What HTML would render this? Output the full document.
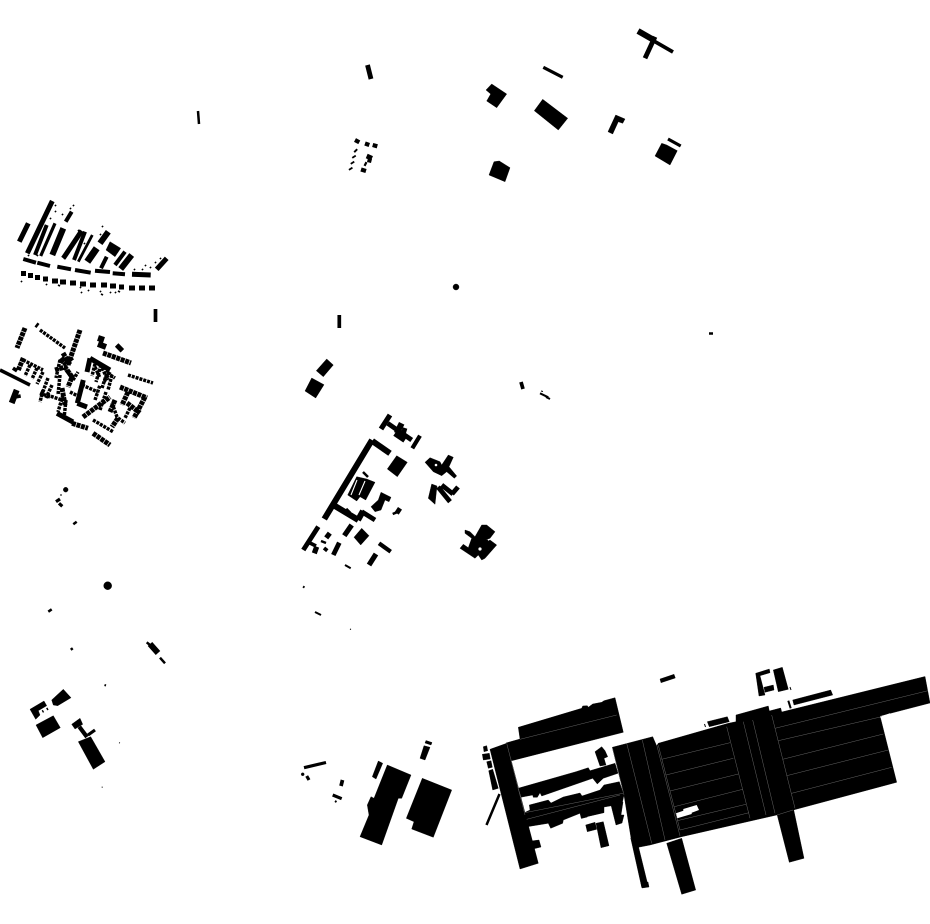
<!DOCTYPE html>
<html><head><meta charset="utf-8"><style>html,body{margin:0;padding:0;background:#fff}svg{display:block}</style></head><body>
<svg width="930" height="924" viewBox="0 0 930 924" xmlns="http://www.w3.org/2000/svg">
<rect width="930" height="924" fill="#fff"/>
<g fill="#000" stroke="#000" stroke-width="0.4">
<!-- SE complex -->
<polygon points="518.3,727.3 581.7,708.3 582.7,706 587.3,705.7 588.3,707.3 592.7,704 601.7,702.3 604,700.7 615,697.7 623.3,732.3 511.7,760.7 506,743 520,739"/>
<polygon points="490,749.3 506.7,743.3 538.3,863.3 520,869"/>
<polygon points="531,841 539,840 541,847 533,849"/>
<polygon points="518,788.3 576,771.7 588.3,767.7 590,770.7 615,763.3 618,773.3 603.3,778.3 597.3,784 592.7,778.3 541.7,796 540,792.7 537.3,797.3 533.3,797.3 532.7,795 520.7,797.3"/>
<polygon points="529.3,805 548.3,800 551,803 563.3,797 580,793 582,796 600,790 604,785 619.3,781.7 624,795 622,804 604,807 604,812.7 586.7,816.7 586,813.3 580,813.3 563.3,820 562.7,823.3 550.7,828.3 548.3,823.3 527.3,826.7 524.3,812.7 530,810"/>
<polygon points="611,805 623,802 621,815 624,815 622,823 616,825"/>
<polygon points="580,813.3 586,811.7 587.3,817 581.3,818.5"/>
<polygon points="585.7,825 595,822.3 596.7,829.3 587.3,831.7"/>
<polygon points="596,823.3 603.3,821.7 609,845.7 601,847.7"/>
<polygon points="595,751.7 601.7,746.7 605,750.7 607.7,756.7 604,758.3 606,765 600,766"/>
<polygon points="483.3,746.7 486.7,745.7 487.7,750.7 484,751.7"/>
<polygon points="482.3,754.3 489.3,753.3 490.3,759 483.3,760"/>
<polygon points="486.7,761.7 491,760.7 492.3,767.3 488.3,768.3"/>
<polygon points="488.7,770.7 492.7,769.3 498.3,788.3 492.7,790"/>
<polygon points="612.3,747.3 652.7,736.7 656.7,746 658.3,743.3 728.3,723.3 736,721.7 736,715 768.3,706 769.3,711 780.7,708 781.7,712 925,676.5 930,703 880,716 896.7,782.3 793.3,810 776.7,815 681.7,836.7 650,845 638.3,847.3 631,838 624,795"/>
<polygon points="630.7,838 638.3,846 648.3,886.7 641.7,887.3"/>
<polygon points="641,883 648,882 649,887 642,888"/>
<polygon points="666.7,843.3 681.7,838.3 695.7,890 681.7,894.3"/>
<polygon points="776.7,813 793.3,808 804,858.3 789.3,862.3"/>
<polygon points="880,716.7 890,713.3 890.7,715.3 880.7,718.3" fill="#fff" stroke="none"/>
<polygon points="707.3,721.7 727.3,716.7 729.3,721.7 709.3,726.7"/>
<polygon points="792.7,700 830.7,690 832.7,695 794,705"/>
<polygon points="660,679 674,674.3 675.3,678 661,682.7"/>
<polygon points="755.7,673.3 769.3,669 770,672.7 760,675.7 765,695 759,696"/>
<polygon points="764,687.3 773.3,685 774,690 765,692.3"/>
<polygon points="773.3,670 782.3,667.3 788.3,689.3 778.3,691.7"/>
<!-- S buildings -->
<polygon points="387.3,765 411,775 401.7,798.3 398.3,798.3 381.7,845 360,836.7 369,815 367.3,805 371,796.7 374,798.3"/>
<polygon points="422.3,778.3 451.7,790 433.3,837.3 411.7,829 414,821.7 406.3,818.3"/>
<polygon points="378.3,761 382.7,763.3 376,779 372.3,776.7"/>
<polygon points="424,745.7 430,747.3 425,760 420,758.3"/>
<polygon points="426,740.5 432,742.5 431,745 425,743"/>
<!-- SW buildings -->
<polygon points="51.7,700 63.3,689.3 71,697.7 57.7,705.7 53.3,705"/>
<polygon points="30,709.3 44,701 46.7,705.7 38.3,710.7 40,715 35.7,719.3"/>
<polygon points="36,725 53.3,715.7 60.3,727.7 42.7,737.7"/>
<polygon points="78.3,741.7 90.7,736.7 105,761.7 93.3,769.3"/>
<polygon points="71.7,724.3 80,718.3 82.7,724.3 75,729"/>
<!-- N buildings -->
<polygon points="491.7,84 506.7,94 496.7,107.7 486.7,101 490.7,94 486,90"/>
<polygon points="542.7,99.3 567.7,118.3 558.3,130 534.3,110.7"/>
<polygon points="615.7,115 625,119 622.7,123.3 618.3,121.7 612.7,134 608,131.7"/>
<polygon points="661.7,143.3 666.7,145 677.3,150.7 670,165 655,156"/>
<polygon points="494,161.7 499.3,161 510,167.7 505,181.7 489,175"/>
<polygon points="326.7,359 333.3,365 323.3,376.7 316.3,370.7"/>
<polygon points="311.7,378 324,384.7 315.7,398 305,391"/>
<circle cx="456" cy="287" r="3"/>
<circle cx="65.7" cy="489.7" r="2.4"/>
<circle cx="107.7" cy="585.7" r="4"/>
<circle cx="302.7" cy="774.3" r="1.5"/>
<!-- central cluster -->
<polygon points="396.7,455.7 407.3,462.3 397.3,476.7 387.3,469"/>
<polygon points="381,492.3 391,497.3 389,501.7 385,500 381,510 375,511.7 371,506.7 378.3,500"/>
<polygon points="361.7,528.3 369,535.7 360.7,545 354,537.3"/>
<polygon points="356.7,476.7 366.7,479 375,482.3 365.7,500 360,496.7 356.7,501 347.7,495"/>
<polygon points="425,462.3 430,457.7 440,461.7 441.7,465 448.3,455 453.3,457.3 449,466.7 456.7,476 454.3,478.3 446.7,471.7 441.7,475.7 433.3,471.7"/>
<polygon points="431.7,484 437,486 435,504.3 428.3,498.3"/>
<polygon points="465,530 470,531.7 475,536.7 481.7,525 486.7,525 495,531.7 490,538.3 485,540 484.3,543.3 490,540 496.7,545 485,558.3 481.7,560 478.3,555 475,558.3 460,548.3 463.3,544.3 468.3,547.7 471.7,538.3 465,533.3"/>
<polygon points="472,538 488,540 484,556 470,552"/>
<polygon points="110,241.7 120.7,248.3 115,256.7 106,250"/>
</g>
<g fill="#fff">
<polygon points="676,813.3 683.3,810.7 683.3,809 696.7,805 699,810 691.7,812.7 691.7,814 677.3,818.3"/>
<circle cx="480" cy="549" r="1.6"/>
<circle cx="436" cy="465" r="1.3"/>
</g>
<g fill="none" stroke="#fff"><path stroke-width="1.1" d="M357 480L351 495M365 481L359 495"/></g>
<!-- hall seams -->
<g fill="none" stroke="#666" stroke-width="0.5">
<path d="M658.3 745L680 830M726.7 726.7L750 818.3M743.3 721.7L766 815M752.7 720L775 813.3M771.7 715L795 808.3M661.7 759.3L730 742.7M666 775L733.3 758.3M670 791L738.3 774M674.3 806.7L742.7 789.3M677.3 820.7L746 804.3M680 830L749 812.7M775 728.3L928 690.7M778.3 740.7L881.7 716.7M782.7 759.3L883.3 734M786.7 775.7L888.3 750M791.7 793.3L891.7 767.3M626.7 743.3L651.7 843.3M642.3 740L665 840M657 746L680 836M506.7 743.3L525 815M520 739.3L616.7 715M525 812.7L623 793.3M526.7 819.3L620 795M612.3 747.3L624 795M518 788L521 797M777 815L793 810"/>
</g>
<g fill="none" stroke="#000">
<g stroke-width="1"><path d="M704.5 724L705.5 727M718 726L718.5 729M790 687L791 690M350 629L351 629.5M119 742.7L120 743M101.7 787L102.7 787.3M541 391L543 391.5"/></g>
<g stroke-width="2"><path d="M788.3 700.7L790.7 708.3M345 565L350.7 568.3M315 612L321 615M303 586.5L304.5 587.5M540 393.3L548.3 397.3M335 801L336.5 802M60.5 495L61.5 495M104.5 685L106 685.5M546 397L550 399"/></g>
<g stroke-width="2.5"><path d="M486.5 825L499.5 794M198 111L199 124M73.3 524.3L76.7 521.7M48.3 611.7L51.7 609.3M160 657.7L165 663.3M146.7 642.3L150 645M709 333.5L713 333.5M71 648L72.5 650M42.3 711.7L43.5 711M46.7 709.3L48 708.6M392.7 514L396.7 512.3M321 541L326 543M363 472L368 477"/></g>
<g stroke-width="3.2"><path d="M543.3 67.3L562.7 77.3M668 139L680.7 146M304 767.7L326 762.5M56 501.7L60 499M59 503.3L62.3 506.3M88 735L95 730M306.7 776L309 780M332.7 795L341.7 798.7"/></g>
<g stroke-width="3.7"><path d="M339.3 315L339.3 328M155.5 309L155.5 322M342.5 780L341 786M521 382L523 389M316 546L308 542M324 548L327.3 550.7M640 33L673 52"/></g>
<g stroke-width="4.2"><path d="M379 543.3L390.7 551.7M420 435.7L412.3 448.3M79.3 726.7L87 737M355 140L359.3 142.3M365 143.5L369.3 145M372.7 145L377.3 146.3M355 150L356.4 151.4M353.5 156L354.5 157.5M352 162L353 163.5M350.2 168L351.2 169.5M367.5 160L371.5 161M361 169.5L366 171M364.5 163.5L366.5 164.5"/></g>
<g stroke-width="4.8"><path d="M367.5 65L371 79M361.7 511.7L375 520M400 508.3L396.7 513.3M318.3 526.7L303.3 550M339.3 542.7L333.3 555M438 487L450 501.7M441.7 485L453 494M458 487L452 494M387.7 423.3L411.7 440M405 428L402 438M366.7 156L372 158.3M655 36.7L645 58.3"/></g>
<g stroke-width="5.2"><path d="M351.7 525L344.3 535.7M376 554L369 565M390 415L381 429M316.7 546.7L314.3 553.3"/></g>
<g stroke-width="6"><path d="M372 440L324.3 519M372.3 441L390 453.3M335 506L358.3 520M358 520L363 511M395 433.3L405 440M401.7 423.3L396.7 433.3M638 31L652 39M150 644L158 653M326 534L330 537M345 510L349 514"/></g>
<!-- west cluster 1 -->
<g stroke-width="5"><path d="M28.3 223.3L19.3 241.7M52.3 201L27.3 253.3M81.7 230.7L63.3 258.3M166.7 258.3L156.7 269.3M132 274.3L150.7 275"/></g>
<g stroke-width="6"><path d="M63.3 228.3L52.3 255M108.3 231.7L100 243.3M131.7 255L120.7 269"/></g>
<g stroke-width="7"><path d="M96.7 248.3L87.3 261.7"/></g>
<g stroke-width="4"><path d="M46.7 225L35 255M71.7 211.7L65.7 221.7M85 231.7L74 260M106.7 256.7L101 268.3M125 251.7L115 265M23.3 259L36 262.7M37.3 262.7L50 266M57.3 266.7L71 269.3M75 270L90.7 272.7M95 270.7L110 272M112.7 273.3L125 274.3"/></g>
<g stroke-width="3.2"><path d="M55 223.3L40.7 256"/></g>
<g stroke-width="2.8"><path d="M92.3 235L78.3 261.7"/></g>
<g stroke-width="5"><path d="M21 273.5h5M28 275.5h5M35 277.5h5M43 279h5M52 281h6M60 282h6M70 283h6M80 284h6M90 285h6M101 285h6M110 286h6M119 287h5M129 288h6M139 288h6M149 288h6"/></g>
<g stroke-width="1.8"><path d="M21 281L22 282M46 284L47 285M58 285L60 286M80 287L81 288M81 292L82 293M88 290L89 291M100 291L101 292M101 294L103 295M110 292L111 293M115 292L116 293M118 291L120 292M55 205L56 206M55 211L56 212M62 214L63 215M70 208L71 209M73 205L74 206M50 218L51 219M78 230L79 231M83 232L84 233M90 252L91 253M84 243L85 244M102 226L103 227M100 234L101 235M145 265L146 266M150 267L151 268M155 262L156 263M160 258L161 259M64 258L65 259M37 255L38 256M28 255L29 256M142 269L143 270M134 269L135 270"/></g>
<!-- west cluster 2 -->
<g stroke-width="5" stroke-dasharray="4 .7"><path d="M25 328L17 348M80 330L68 365M23.3 358L18.3 370M16 368L14 371M103 353L131 363M72 423.3L88 428.3M93 433.3L110 445M83 417L110 397M120 387L147 398M128 392L122 405M145 397L134 418M115 400L110 412M118 418L112 427M63 353L70 365M55 370L65 367L72 377L68 387M62 388L65 405M127 403L140 413"/></g>
<g stroke-width="3.5" stroke-dasharray="3 1"><path d="M40 330L65 348M23 360L43 370M128 375L153 383M93 420L113 431.7M30 365L25 376M37 368L32 379M43 372L37 384M60 360L56 378M66 370L72 378M73 380L78 372M96 360L92 376M101 365L96 382M108 370L102 388M112 375L108 390M48 378L41 397M52 385L46 398M43 390L40 402M60 375L58 395M63 395L58 412M66 400L64 418M95 400L100 385M100 410L106 392M130 408L125 418M110 372L104 382M40 393L50 397M47 395L62 400M82 385L98 392M95 367L100 378M102 368L108 380M107 373L115 378M112 403L117 417M118 418L125 423M70 392L78 396"/></g>
<g stroke-width="5"><path d="M90 358.3L110 370M90 358.3L87 372M83.3 380L77.3 403.3M77.3 403.3L87 407M57 413.3L73 422M36 324.5L38 326M116.7 345L122.3 350.7M65 358L60 362"/></g>
<g stroke-width="3.5"><path d="M0 370L30 385M20.7 396L15 397M116.7 345L122.3 350.7M63 365L73 358"/></g>
<g stroke-width="6"><path d="M16.7 390L11.7 403M98 338L104 340M98 344L106 347"/></g>
</g>
</svg>
</body></html>
